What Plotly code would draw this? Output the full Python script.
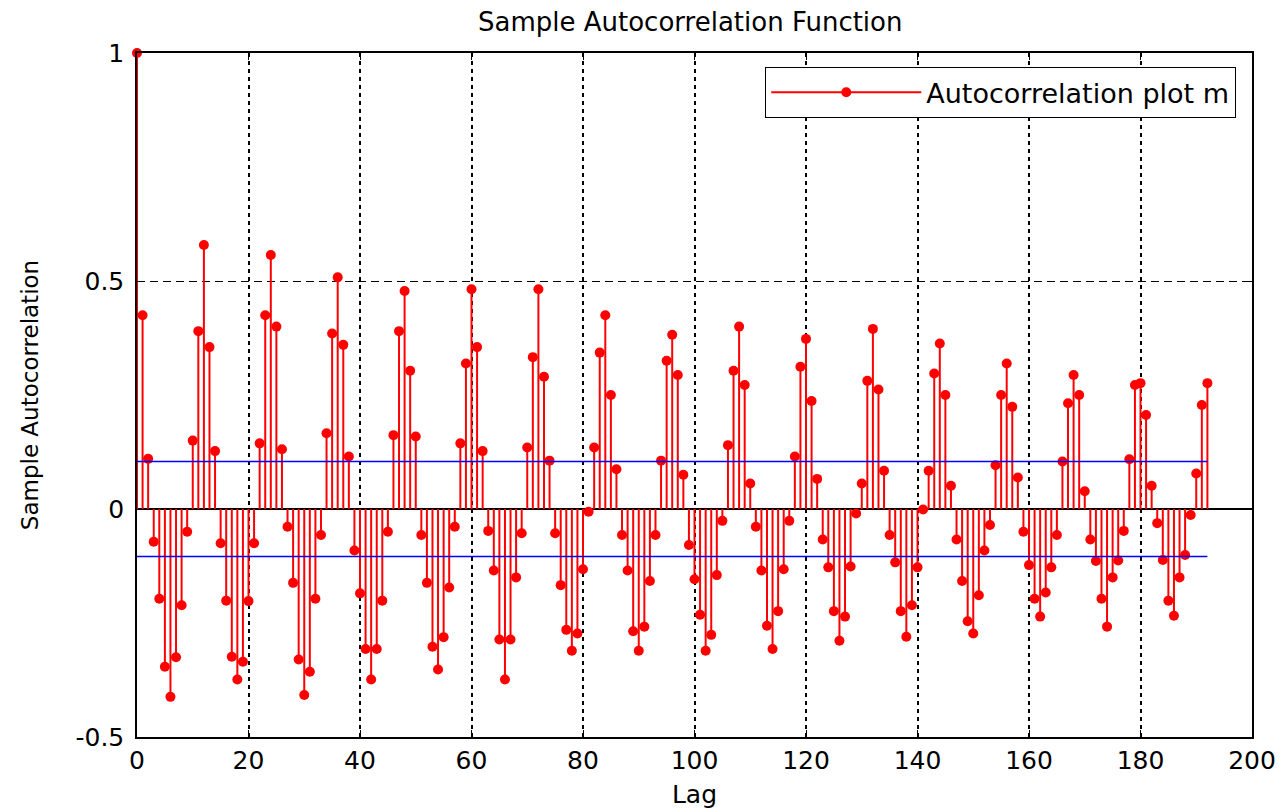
import plotly.graph_objects as go

# Sample autocorrelation values for lags 0..192
lags = list(range(193))
acf = [
    1.000, 0.425, 0.110, -0.072, -0.197, -0.346, -0.412, -0.325, -0.211, -0.050,
    0.150, 0.390, 0.579, 0.355, 0.127, -0.075, -0.201, -0.324, -0.374, -0.335,
    -0.202, -0.075, 0.144, 0.425, 0.557, 0.400, 0.131, -0.039, -0.162, -0.330,
    -0.408, -0.357, -0.197, -0.057, 0.166, 0.385, 0.508, 0.360, 0.115, -0.091,
    -0.185, -0.307, -0.374, -0.307, -0.201, -0.050, 0.162, 0.390, 0.478, 0.303,
    0.159, -0.057, -0.162, -0.302, -0.352, -0.281, -0.172, -0.039, 0.144, 0.319,
    0.482, 0.355, 0.127, -0.048, -0.135, -0.286, -0.374, -0.286, -0.150, -0.053,
    0.135, 0.333, 0.482, 0.290, 0.106, -0.053, -0.167, -0.265, -0.311, -0.273,
    -0.132, -0.006, 0.135, 0.343, 0.425, 0.250, 0.087, -0.057, -0.135, -0.268,
    -0.311, -0.258, -0.158, -0.057, 0.106, 0.325, 0.382, 0.294, 0.075, -0.079,
    -0.154, -0.232, -0.311, -0.276, -0.145, -0.026, 0.140, 0.303, 0.400, 0.272,
    0.056, -0.039, -0.135, -0.256, -0.307, -0.224, -0.132, -0.026, 0.115, 0.312,
    0.373, 0.237, 0.066, -0.067, -0.128, -0.224, -0.289, -0.236, -0.126, -0.010,
    0.056, 0.281, 0.395, 0.262, 0.084, -0.057, -0.117, -0.224, -0.280, -0.211,
    -0.128, -0.001, 0.084, 0.297, 0.363, 0.250, 0.051, -0.067, -0.158, -0.246,
    -0.273, -0.189, -0.091, -0.035, 0.096, 0.250, 0.319, 0.224, 0.069, -0.050,
    -0.123, -0.197, -0.236, -0.183, -0.128, -0.057, 0.104, 0.232, 0.294, 0.250,
    0.039, -0.067, -0.114, -0.197, -0.258, -0.150, -0.113, -0.048, 0.109, 0.272,
    0.276, 0.206, 0.051, -0.031, -0.112, -0.201, -0.234, -0.150, -0.101, -0.013,
    0.078, 0.228, 0.276,
]

# Approximate 95% confidence bounds
bound = 0.104
bound_lags = [0, 192]

x_ticks = [0, 20, 40, 60, 80, 100, 120, 140, 160, 180, 200]
y_ticks = [-0.5, 0, 0.5, 1]
y_tick_text = ["-0.5", "0", "0.5", "1"]

FONT = "DejaVu Sans"
RED = "#FF0000"

# Stem segments: baseline -> value for each lag
stem_x, stem_y = [], []
for k, v in zip(lags, acf):
    stem_x += [k, k, None]
    stem_y += [0, v, None]

fig = go.Figure()
fig.add_trace(go.Scatter(
    x=stem_x, y=stem_y, mode="lines",
    line=dict(color=RED, width=2), showlegend=False, hoverinfo="skip",
))
fig.add_trace(go.Scatter(
    x=lags, y=acf, mode="markers", cliponaxis=False,
    marker=dict(color=RED, size=10, line=dict(width=0)), showlegend=False,
))
for b in (bound, -bound):
    fig.add_trace(go.Scatter(
        x=bound_lags, y=[b, b], mode="lines",
        line=dict(color="#0000FF", width=1.5), showlegend=False, hoverinfo="skip",
    ))
# Legend entry for the stem series
fig.add_trace(go.Scatter(
    x=[None], y=[None], mode="lines+markers", name="Autocorrelation plot m",
    line=dict(color=RED, width=1.8), marker=dict(color=RED, size=10),
))

fig.update_layout(
    width=1283, height=811,
    margin=dict(l=137, r=31, t=53, b=74, autoexpand=False),
    paper_bgcolor="white", plot_bgcolor="white",
    font=dict(family=FONT, size=25, color="#000000"),
    title=dict(
        text="Sample Autocorrelation Function",
        x=0.538, xanchor="center", y=0.973, yanchor="middle",
        font=dict(family=FONT, size=26, color="#000000"),
    ),
    legend=dict(
        x=0.9857, xanchor="right", y=0.9795, yanchor="top",
        bgcolor="white", bordercolor="#000000", borderwidth=1.2,
        font=dict(family=FONT, size=27, color="#000000"),
        itemwidth=150,
    ),
    xaxis=dict(
        range=[0, 200], tickvals=x_ticks, ticktext=[str(t) for t in x_ticks],
        automargin=False,
        showline=True, linecolor="#000000", linewidth=1.5, mirror="ticks",
        ticks="inside", ticklen=7, tickcolor="#000000", tickwidth=1.2,
        showgrid=True, gridcolor="#000000", gridwidth=1.5, griddash="4px,4px",
        zeroline=False,
        title=dict(text="Lag", font=dict(family=FONT, size=25), standoff=12),
    ),
    yaxis=dict(
        range=[-0.5, 1], tickvals=y_ticks, ticktext=y_tick_text,
        automargin=False,
        showline=True, linecolor="#000000", linewidth=1.5, mirror="ticks",
        ticks="inside", ticklen=7, tickcolor="#000000", tickwidth=1.2,
        ticklabelstandoff=6,
        showgrid=True, gridcolor="#000000", gridwidth=1.2, griddash="8px,5px",
        zeroline=True, zerolinecolor="#000000", zerolinewidth=1.5,
        title=dict(text="Sample Autocorrelation", font=dict(family=FONT, size=23), standoff=30),
    ),
)

fig.write_html("out.html")
